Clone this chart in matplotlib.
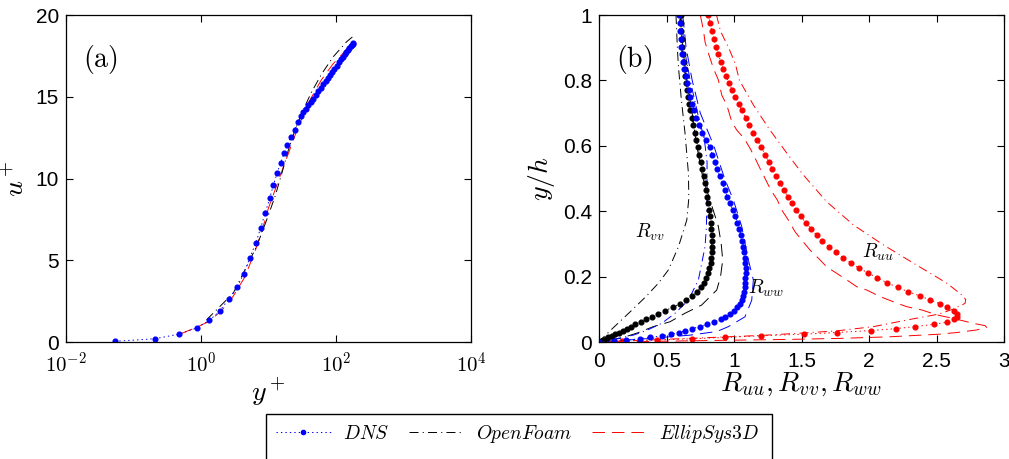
import numpy as np
import matplotlib
matplotlib.use("Agg")
import matplotlib.pyplot as plt
from matplotlib.patches import Rectangle
from matplotlib.lines import Line2D
from matplotlib.ticker import FixedLocator, FixedFormatter

plt.rcParams['mathtext.fontset'] = 'cm'
plt.rcParams['font.family'] = ['Liberation Sans', 'DejaVu Sans']
plt.rcParams['lines.scale_dashes'] = False

# ---------------- panel (a): u+ vs y+ ----------------
dns_yp = [0.053, 0.21, 0.48, 0.86, 1.33, 1.91, 2.57, 3.45, 4.28, 5.25, 6.45, 7.65,
          8.98, 10.4, 11.8, 13.4, 15.1, 17.0, 19.0, 21.3, 24.4, 27.7, 30.6, 33, 36,
          39, 42, 46, 50, 55, 60, 65, 70, 76, 82, 88, 95, 102, 110, 118, 126, 134,
          142, 150, 158, 165, 171, 176, 179]
dns_up = [0.04, 0.2, 0.49, 0.86, 1.32, 1.91, 2.63, 3.36, 4.17, 5.11, 6.03, 6.97,
          7.92, 8.78, 9.59, 10.33, 10.96, 11.53, 12.06, 12.52, 12.97, 13.46, 13.85,
          14.05, 14.27, 14.47, 14.66, 14.89, 15.1, 15.34, 15.56, 15.76, 15.95, 16.15,
          16.35, 16.53, 16.72, 16.9, 17.1, 17.28, 17.45, 17.6, 17.75, 17.88, 18.0,
          18.1, 18.18, 18.24, 18.28]

of_yp = [1.21, 3.01, 4.75, 6.68, 9.4, 12.5, 15.7, 19.7, 24.7, 31, 43.6, 61.4, 91.2, 144, 180]
of_up = [1.36, 2.99, 4.62, 5.85, 7.47, 8.9, 10.3, 11.75, 12.97, 14.0, 15.3, 16.4, 17.45, 18.37, 18.7]

es_yp = [0.5, 0.86, 1.3, 2, 3, 4.5, 6.5, 9, 10, 12.5, 15, 20, 25, 30, 40, 60, 90, 130, 170]
es_up = [0.5, 0.9, 1.25, 1.9, 2.8, 4.0, 5.7, 7.5, 8.2, 9.3, 10.2, 11.6, 12.7, 13.5,
         14.7, 16.0, 17.0, 17.7, 18.2]

# ---------------- panel (b): Reynolds stresses ----------------
yd = [1.0, 0.975, 0.951, 0.927, 0.903, 0.880, 0.857, 0.835, 0.813, 0.791, 0.770,
      0.750, 0.729, 0.709, 0.686, 0.664, 0.640, 0.618, 0.595, 0.573, 0.550, 0.529,
      0.507, 0.485, 0.465, 0.444, 0.424, 0.404, 0.384, 0.365, 0.346, 0.327, 0.309,
      0.292, 0.275, 0.258, 0.242, 0.226, 0.211, 0.196, 0.181, 0.167, 0.154, 0.141,
      0.129, 0.117, 0.106, 0.096, 0.086, 0.077, 0.069, 0.061, 0.054, 0.047, 0.041,
      0.035, 0.029, 0.024, 0.019, 0.014, 0.010, 0.006, 0.003, 0.0]
ruu_dns = [0.81, 0.822, 0.836, 0.85, 0.866, 0.883, 0.902, 0.921, 0.941, 0.964, 0.986,
           1.008, 1.033, 1.057, 1.087, 1.114, 1.143, 1.173, 1.203, 1.23, 1.257, 1.284,
           1.311, 1.341, 1.37, 1.398, 1.428, 1.457, 1.494, 1.531, 1.571, 1.612, 1.655,
           1.701, 1.752, 1.805, 1.865, 1.926, 1.993, 2.062, 2.135, 2.212, 2.29, 2.375,
           2.45, 2.523, 2.58, 2.627, 2.65, 2.654, 2.63, 2.58, 2.48, 2.34, 2.2, 2.015,
           1.76, 1.52, 1.2, 0.93, 0.69, 0.43, 0.17, 0.0]
rvv_dns = [0.605, 0.607, 0.61, 0.612, 0.615, 0.62, 0.627, 0.634, 0.64, 0.647, 0.654,
           0.661, 0.669, 0.677, 0.688, 0.699, 0.71, 0.721, 0.732, 0.744, 0.756, 0.765,
           0.775, 0.785, 0.792, 0.798, 0.806, 0.815, 0.821, 0.827, 0.831, 0.834, 0.835,
           0.835, 0.834, 0.831, 0.826, 0.818, 0.808, 0.795, 0.776, 0.755, 0.725, 0.69,
           0.645, 0.60, 0.545, 0.49, 0.44, 0.39, 0.35, 0.31, 0.27, 0.235, 0.205, 0.175,
           0.145, 0.12, 0.095, 0.07, 0.05, 0.03, 0.015, 0.0]
rww_dns = [0.595, 0.597, 0.6, 0.604, 0.609, 0.614, 0.622, 0.632, 0.644, 0.655, 0.666,
           0.677, 0.69, 0.703, 0.72, 0.74, 0.763, 0.79, 0.82, 0.838, 0.857, 0.875,
           0.893, 0.915, 0.932, 0.95, 0.97, 0.99, 1.01, 1.025, 1.04, 1.052, 1.062,
           1.07, 1.076, 1.08, 1.083, 1.085, 1.085, 1.084, 1.082, 1.079, 1.074, 1.066,
           1.057, 1.042, 1.025, 1.0, 0.97, 0.935, 0.9, 0.85, 0.8, 0.745, 0.69, 0.64,
           0.59, 0.535, 0.47, 0.38, 0.3, 0.2, 0.11, 0.0]

ruu_of_y = [1.0, 0.95, 0.9, 0.85, 0.8, 0.725, 0.651, 0.582, 0.513, 0.429, 0.358, 0.297,
            0.235, 0.18, 0.144, 0.13, 0.118, 0.1, 0.085, 0.071, 0.047, 0.034, 0.027,
            0.02, 0.015, 0.01, 0.006, 0.003, 0.0]
ruu_of = [0.87, 0.9, 0.96, 1.01, 1.04, 1.143, 1.261, 1.383, 1.509, 1.686, 1.884, 2.106,
          2.353, 2.576, 2.687, 2.716, 2.711, 2.62, 2.514, 2.328, 2.032, 1.76, 1.489,
          1.193, 0.9, 0.6, 0.35, 0.15, 0.0]
ruu_es_y = [1.0, 0.954, 0.918, 0.883, 0.837, 0.801, 0.755, 0.725, 0.674, 0.648, 0.623,
            0.592, 0.562, 0.526, 0.5, 0.465, 0.434, 0.404, 0.373, 0.337, 0.312, 0.281,
            0.256, 0.23, 0.21, 0.19, 0.169, 0.159, 0.139, 0.123, 0.108, 0.098, 0.083,
            0.072, 0.057, 0.05, 0.045, 0.037, 0.029, 0.024, 0.016, 0.011, 0.008, 0.005,
            0.002, 0.0]
ruu_es = [0.75, 0.773, 0.785, 0.81, 0.847, 0.884, 0.909, 0.946, 0.983, 1.02, 1.074,
          1.119, 1.156, 1.198, 1.23, 1.272, 1.321, 1.353, 1.402, 1.452, 1.501, 1.563,
          1.625, 1.686, 1.76, 1.835, 1.909, 1.983, 2.081, 2.18, 2.279, 2.39, 2.501,
          2.625, 2.773, 2.86, 2.87, 2.8, 2.65, 2.526, 2.156, 1.785, 1.415, 0.9, 0.4, 0.0]

rvv_of_y = [1.0, 0.9, 0.842, 0.74, 0.638, 0.516, 0.44, 0.373, 0.291, 0.22, 0.18, 0.14,
            0.1, 0.057, 0.02, 0.0]
rvv_of = [0.57, 0.58, 0.588, 0.61, 0.637, 0.662, 0.665, 0.65, 0.588, 0.513, 0.44, 0.35,
          0.25, 0.14, 0.045, 0.0]
rvv_es_y = [1.0, 0.9, 0.8, 0.7, 0.608, 0.5, 0.434, 0.353, 0.3, 0.251, 0.2, 0.159, 0.113,
            0.088, 0.062, 0.047, 0.027, 0.011, 0.0]
rvv_es = [0.6, 0.62, 0.65, 0.69, 0.72, 0.77, 0.822, 0.884, 0.905, 0.916, 0.9, 0.872,
          0.76, 0.637, 0.526, 0.402, 0.279, 0.156, 0.0]

rww_of_y = [1.0, 0.9, 0.8, 0.7, 0.62, 0.55, 0.45, 0.35, 0.291, 0.19, 0.128, 0.088,
            0.057, 0.035, 0.021, 0.006, 0.0]
rww_of = [0.61, 0.63, 0.675, 0.73, 0.78, 0.8, 0.8, 0.795, 0.785, 0.736, 0.662, 0.563,
          0.464, 0.35, 0.254, 0.081, 0.0]
rww_es_y = [1.0, 0.9, 0.8, 0.7, 0.6, 0.5, 0.434, 0.353, 0.251, 0.19, 0.128, 0.077,
            0.047, 0.032, 0.021, 0.01, 0.0]
rww_es = [0.62, 0.645, 0.69, 0.75, 0.85, 0.93, 0.995, 1.057, 1.106, 1.143, 1.131, 1.081,
          0.958, 0.872, 0.674, 0.35, 0.0]

DOT = (0, (1, 2.2))
DASHDOT = (0, (6.5, 3, 0.8, 3))
DASH = (0, (9, 5))
lw = 0.7
ms = 3.4

fig = plt.figure(figsize=(10.09, 4.59), dpi=100)
axa = fig.add_axes([0.0654, 0.2549, 0.4014, 0.7124])
axb = fig.add_axes([0.5937, 0.2549, 0.4014, 0.7124])

# panel (a)
axa.plot(es_yp, es_up, color='red', ls=DASH, lw=lw)
axa.plot(of_yp, of_up, color='black', ls=DASHDOT, lw=lw)
axa.plot(dns_yp, dns_up, color='blue', ls=DOT, lw=lw, marker='o', ms=ms, mec='blue', mfc='blue')
axa.set_xscale('log')
axa.set_xlim(1e-2, 1e4)
axa.set_ylim(0, 20)
axa.xaxis.set_major_locator(FixedLocator([1e-2, 1, 1e2, 1e4]))
axa.xaxis.set_major_formatter(FixedFormatter([r'$\mathsf{10^{-2}}$', r'$\mathsf{10^{0}}$',
                                              r'$\mathsf{10^{2}}$', r'$\mathsf{10^{4}}$']))
axa.xaxis.set_minor_locator(FixedLocator([]))
axa.set_yticks([0, 5, 10, 15, 20])
axa.set_xlabel(r'$y^+$', fontsize=20, labelpad=0)
axa.set_ylabel(r'$u^+$', fontsize=20, labelpad=4)
axa.text(0.042, 0.915, r'$\mathrm{(a)}$', transform=axa.transAxes, fontsize=20, va='top')

# panel (b)
for ydat, xdat, col in [(ruu_es_y, ruu_es, 'red'), (rvv_es_y, rvv_es, 'black'),
                        (rww_es_y, rww_es, 'blue')]:
    axb.plot(xdat, ydat, color=col, ls=DASH, lw=lw)
for ydat, xdat, col in [(ruu_of_y, ruu_of, 'red'), (rvv_of_y, rvv_of, 'black'),
                        (rww_of_y, rww_of, 'blue')]:
    axb.plot(xdat, ydat, color=col, ls=DASHDOT, lw=lw)
for xdat, col in [(ruu_dns, 'red'), (rvv_dns, 'black'), (rww_dns, 'blue')]:
    axb.plot(xdat, yd, color=col, ls=DOT, lw=lw, marker='o', ms=ms, mec=col, mfc=col)
axb.set_xlim(0, 3)
axb.set_ylim(0, 1)
axb.set_xticks([0, 0.5, 1, 1.5, 2, 2.5, 3])
axb.set_xticklabels(['0', '0.5', '1', '1.5', '2', '2.5', '3'])
axb.set_yticks([0, 0.2, 0.4, 0.6, 0.8, 1])
axb.set_yticklabels(['0', '0.2', '0.4', '0.6', '0.8', '1'])
axb.set_xlabel(r'$R_{uu}, R_{vv}, R_{ww}$', fontsize=20, labelpad=0)
axb.set_ylabel(r'$y/h$', fontsize=20, labelpad=4)
axb.text(0.042, 0.915, r'$\mathrm{(b)}$', transform=axb.transAxes, fontsize=20, va='top')
axb.text(0.378, 0.336, r'$R_{vv}$', fontsize=14, ha='center', va='center')
axb.text(2.067, 0.275, r'$R_{uu}$', fontsize=14, ha='center', va='center')
axb.text(1.237, 0.165, r'$R_{ww}$', fontsize=14, ha='center', va='center')

for ax in (axa, axb):
    ax.tick_params(direction='in', top=True, right=True, length=5, width=0.8,
                   labelsize=15)
    ax.tick_params(axis='x', pad=7)
    ax.tick_params(axis='y', pad=5)
    for s in ax.spines.values():
        s.set_linewidth(0.9)

# legend (MATLAB style box running off the bottom of the page)
h1 = Line2D([], [], color='blue', ls=DOT, lw=lw, marker='o', ms=3.0, mec='blue', mfc='blue')
h2 = Line2D([], [], color='black', ls=DASHDOT, lw=lw)
h3 = Line2D([], [], color='red', ls=DASH, lw=lw)
leg = fig.legend([h1, h2, h3], [r'$DNS$', r'$OpenFoam$', r'$EllipSys3D$'],
                 loc='center', bbox_to_anchor=(0.513, (459 - 434) / 459), ncol=3,
                 frameon=False, fontsize=14, numpoints=1, handlelength=2.8,
                 handletextpad=0.65, columnspacing=1.0)
fig.patches.append(Rectangle((266 / 1009, -0.05), (772 - 266) / 1009, 0.05 + (459 - 414) / 459,
                             transform=fig.transFigure, fill=False, edgecolor='black', lw=1.0))

fig.savefig('out.png', dpi=100)
